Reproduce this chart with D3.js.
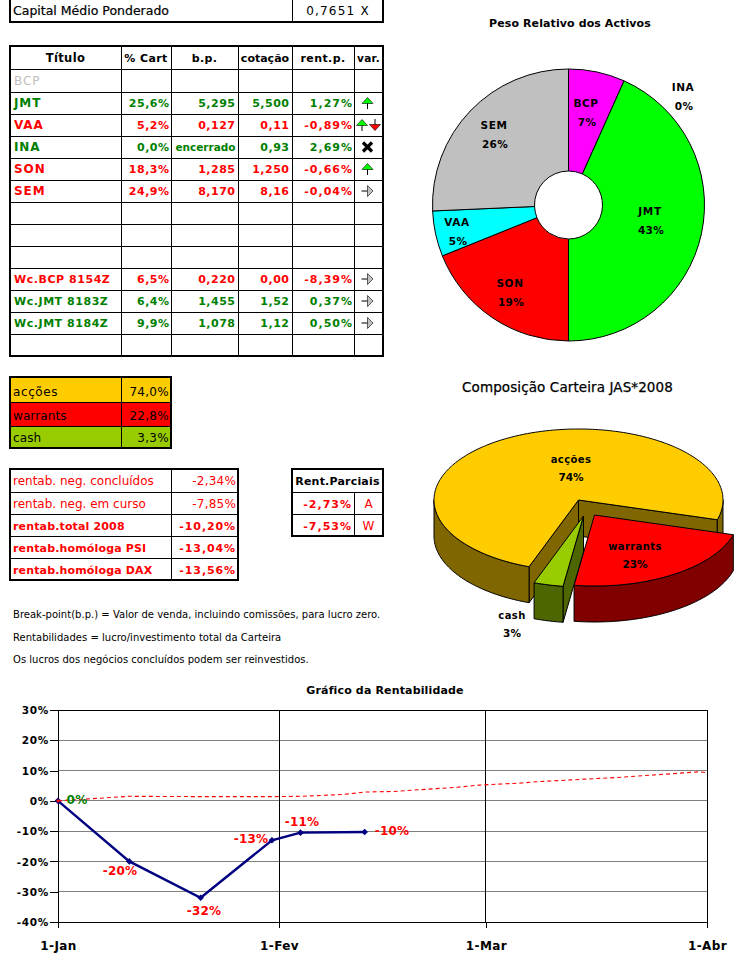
<!DOCTYPE html>
<html><head><meta charset="utf-8">
<style>html,body{margin:0;padding:0;background:#fff}svg{display:block}text{font-family:"DejaVu Sans",sans-serif}</style>
<script src="https://cdn.jsdelivr.net/npm/d3@7"></script></head><body>
<script>
// ---------- data ----------
const capitalLabel = "Capital Médio Ponderado";
const capitalValue = "0,7651 X";
const tableHeader = ["Título","% Cart","b.p.","cotação","rent.p.","var."];
const titulos = ["BCP","JMT","VAA","INA","SON","SEM","","","","Wc.BCP 8154Z","Wc.JMT 8183Z","Wc.JMT 8184Z",""];
const pctCart = ["","25,6%","5,2%","0,0%","18,3%","24,9%","","","","6,5%","6,4%","9,9%",""];
const breakPoint = ["","5,295","0,127","encerrado","1,285","8,170","","","","0,220","1,455","1,078",""];
const cotacao = ["","5,500","0,11","0,93","1,250","8,16","","","","0,00","1,52","1,12",""];
const rentP = ["","1,27%","-0,89%","2,69%","-0,66%","-0,04%","","","","-8,39%","0,37%","0,50%",""];
const varSym = ["","up","updown","x","up","flat","","","","flat","flat","flat",""];
const rowTone = ["muted","pos","neg","pos","neg","neg","","","","neg","pos","pos",""];

const compNames = ["acções","warrants","cash"];
const compValues = [74.0,22.8,3.3];
const compText = ["74,0%","22,8%","3,3%"];
const compPct = ["74%","23%","3%"];

const rentNames = ["rentab. neg. concluídos","rentab. neg. em curso","rentab.total 2008","rentab.homóloga PSI","rentab.homóloga DAX"];
const rentValues = ["-2,34%","-7,85%","-10,20%","-13,04%","-13,56%"];
const rentBold = [false,false,true,true,true];
const parcialTitle = "Rent.Parciais";
const parcialValues = ["-2,73%","-7,53%"];
const parcialKeys = ["A","W"];
const notes = ["Break-point(b.p.) = Valor de venda, incluindo comissões, para lucro zero.",
  "Rentabilidades = lucro/investimento total da Carteira",
  "Os lucros dos negócios concluídos podem ser reinvestidos."];

const pieNames = ["BCP","JMT","INA","SON","VAA","SEM"];
const pieValues = [6.7,43.3,0,18.9,5.4,25.7];
const piePct = ["7%","43%","0%","19%","5%","26%"];

const lineDates = ["2008-01-01","2008-01-11","2008-01-21","2008-01-31","2008-02-04","2008-02-13"];
const lineValues = [0,-20,-32,-13,-10.5,-10.3];
const lineLabels = ["0%","-20%","-32%","-13%","-11%","-10%"];
const refDates = ["2008-01-01","2008-01-11","2008-01-21","2008-01-31","2008-02-04","2008-02-10","2008-02-13","2008-02-17","2008-02-26","2008-02-29","2008-03-06","2008-03-08","2008-03-20","2008-03-23","2008-03-31","2008-04-01"];
const refValues = [0,1.5,1.4,1.4,1.5,2.1,2.9,3.1,4.5,5.2,5.9,6.3,7.8,8.3,9.6,9.3];
const yTicks = [-40,-30,-20,-10,0,10,20,30];
const xTickDates = ["2008-01-01","2008-02-01","2008-03-01","2008-04-01"];
const xTickLabels = ["1-Jan","1-Fev","1-Mar","1-Abr"];

// ---------- helpers ----------
const svg = d3.select("body").append("svg").attr("width",749).attr("height",968);
const RED="#ff0000", GREEN="#008000";
const toneColor = {muted:"#c0c0c0",pos:GREEN,neg:RED,"":"#000"};
function T(x,y,s,o={}){
  return svg.append("text").attr("x",x).attr("y",y).text(s)
   .attr("text-anchor",o.a||"start").attr("font-size",o.s||12)
   .attr("font-weight",o.b?"bold":"normal").attr("fill",o.f||"#000")
   .attr("letter-spacing",o.ls||0);
}
function grid(xs,ys,skipV){
  const g=svg.append("g").attr("shape-rendering","crispEdges").attr("stroke","#000");
  xs.slice(1,-1).forEach(x=>g.append("line").attr("x1",x).attr("x2",x).attr("y1",skipV?ys[1]:ys[0]).attr("y2",ys[ys.length-1]));
  ys.slice(1,-1).forEach(y=>g.append("line").attr("x1",xs[0]).attr("x2",xs[xs.length-1]).attr("y1",y).attr("y2",y));
  g.append("rect").attr("x",xs[0]).attr("y",ys[0]).attr("width",xs[xs.length-1]-xs[0]).attr("height",ys[ys.length-1]-ys[0]).attr("fill","none").attr("stroke-width",2);
  return g;
}

// ---------- capital box ----------
grid([10,292,383],[-3,22]);
T(13,15,capitalLabel,{s:12.5}).attr("stroke","#000").attr("stroke-width",.2);
T(338,15,capitalValue,{a:"middle",s:12,ls:1.2});

// ---------- main table ----------
const colX=[10,121,171,238,292,354,383];
const rowY=[46,69,92,114,136,158,180,202,224,246,268,290,312,334,356];
grid(colX,rowY);
tableHeader.forEach((h,i)=>T((colX[i]+colX[i+1])/2,62,h,{a:"middle",b:true,s:i==5?10.5:(i==0?11.5:11),ls:i==3?0:.4}));
titulos.forEach((t,i)=>{
  const mid=(rowY[i+1]+rowY[i+2])/2, c=toneColor[rowTone[i]];
  const wc=i>=9;
  T(14,mid+4,t,{b:rowTone[i]!="muted",s:wc?11:12,f:c,ls:wc?.55:.9});
  T(169.5,mid+4,pctCart[i],{a:"end",b:true,s:11,f:c,ls:.5});
  T(235.5,mid+4,breakPoint[i],{a:"end",b:true,s:breakPoint[i]=="encerrado"?10.5:11,f:c,ls:breakPoint[i]=="encerrado"?0:.5});
  T(289.5,mid+4,cotacao[i],{a:"end",b:true,s:11,f:c,ls:.5});
  T(353,mid+4,rentP[i],{a:"end",b:true,s:11,f:c,ls:1});
  drawVar(varSym[i],367.5,mid);
});
function arrowUp(x,y,fill){
  svg.append("path").attr("d",`M${x},${y-5}V${y+6}`).attr("stroke","#000").attr("fill","none");
  svg.append("path").attr("d",`M${x},${y-5.5}L${x+5.5},${y+.5}H${x-5.5}Z`).attr("fill",fill).attr("stroke","#000").attr("stroke-width",.6);
}
function arrowDown(x,y,fill){
  svg.append("path").attr("d",`M${x},${y-6}V${y+5}`).attr("stroke","#000").attr("fill","none");
  svg.append("path").attr("d",`M${x},${y+5.5}L${x+5.5},${y-.5}H${x-5.5}Z`).attr("fill",fill).attr("stroke","#000").attr("stroke-width",.6);
}
function drawVar(k,x,y){
  if(k=="up") arrowUp(x,y,"#00ff00");
  if(k=="updown"){arrowUp(x-5.5,y,"#00ff00");arrowDown(x+7.5,y,"#ff0000");}
  if(k=="x") svg.append("path").attr("d",`M${x-4.5},${y-4.5}L${x+4.5},${y+4.5}M${x+4.5},${y-4.5}L${x-4.5},${y+4.5}`).attr("stroke","#000").attr("stroke-width",3.2).attr("fill","none");
  if(k=="flat"){
    svg.append("path").attr("d",`M${x-6},${y}H${x}`).attr("stroke","#000").attr("fill","none");
    svg.append("path").attr("d",`M${x},${y-5.5}L${x+5.5},${y}L${x},${y+5.5}Z`).attr("fill","#c0c0c0").attr("stroke","#000").attr("stroke-width",.6);
  }
}

// ---------- composition table ----------
const compY=[377,402,426,448];
const compBase=[396,420,442];
const compFill=["#ffcc00","#ff0000","#99cc00"];
compNames.forEach((n,i)=>{
  svg.append("rect").attr("x",10).attr("y",compY[i]).attr("width",161).attr("height",compY[i+1]-compY[i]).attr("fill",compFill[i]);
  T(13,compBase[i],n,{s:12,ls:i==0?.6:.1});
  T(169,compBase[i],compText[i],{a:"end",s:12,ls:.3});
});
grid([10,121,171],compY);

// ---------- rentability tables ----------
const rentY=[469,492,514,536,558,580];
grid([10,171,238],rentY);
rentNames.forEach((n,i)=>{
  T(13,rentY[i]+16,n,{s:rentBold[i]?11:12,b:rentBold[i],f:RED,ls:rentBold[i]?.15:0});
  T(236,rentY[i]+16,rentValues[i],{a:"end",s:rentBold[i]?11:12,b:rentBold[i],f:RED,ls:rentBold[i]?.9:.2});
});
const parcY=[469,492,514,536];
grid([292,354,383],parcY,true);
T(337.5,485,parcialTitle,{a:"middle",b:true,s:11,ls:.2});
parcialValues.forEach((v,i)=>{
  const yy=parcY[i+1]+16;
  T(352,yy,v,{a:"end",b:true,s:11,f:RED,ls:1});
  T(368.5,yy,parcialKeys[i],{a:"middle",s:12,f:RED});
});

// ---------- notes ----------
[618,641,663].forEach((yy,i)=>T(13,yy,notes[i],{s:10,ls:.02}));

// ---------- doughnut ----------
T(570,27,"Peso Relativo dos Activos",{a:"middle",b:true,s:11,ls:.1});
const pieG=svg.append("g").attr("transform","translate(568.5,205)");
const pieFill=["#ff00ff","#00ff00","#ffffff","#ff0000","#00ffff","#c0c0c0"];
const arcs=d3.pie().sort(null)(pieValues);
const arcGen=d3.arc().innerRadius(34).outerRadius(136);
pieG.selectAll("path").data(arcs).join("path").attr("d",arcGen)
  .attr("fill",(d,i)=>pieFill[i]).attr("stroke","#000").attr("stroke-width",1);
const pieLabelAt=[[586,107],[650,215],[683,91],[510,287],[457,226],[494,129]];
pieNames.forEach((n,i)=>{
  T(pieLabelAt[i][0],pieLabelAt[i][1],n,{a:"middle",b:true,s:10.5,ls:.6});
  T(pieLabelAt[i][0]+1,pieLabelAt[i][1]+19,piePct[i],{a:"middle",b:true,s:10.5,ls:.3});
});

// ---------- 3D pie ----------
T(567.5,392,"Composição Carteira JAS*2008",{a:"middle",s:13.5,ls:.1}).attr("stroke","#000").attr("stroke-width",.25);
const p3={cx:578.5,cy:500,rx:144.5,ry:71,depth:36};
const compOffset=[[0,0],[16,15],[5,16]];
const compSide=["#806600","#800000","#4d6600"];
const pt=(a,o,dz=0)=>[p3.cx+o[0]+p3.rx*Math.sin(a),p3.cy+o[1]-p3.ry*Math.cos(a)+dz];
const sample=(a0,a1)=>{const n=Math.max(2,Math.ceil((a1-a0)/0.02));return d3.range(n+1).map(k=>a0+(a1-a0)*k/n);};
const poly=d3.line();
const g3=svg.append("g").attr("stroke","#000").attr("stroke-width",1).attr("stroke-linejoin","round");
const start3=200*Math.PI/180;
const arcs3=d3.pie().sort(null).startAngle(start3).endAngle(start3+2*Math.PI)(compValues);
arcs3.forEach((d,i)=>{
  const o=compOffset[i],a0=d.startAngle,a1=d.endAngle,apex=[p3.cx+o[0],p3.cy+o[1]];
  const apexLow=[apex[0],apex[1]+p3.depth];
  const face=(a)=>g3.append("path").attr("d",poly([apex,pt(a,o),pt(a,o,p3.depth),apexLow])+"Z").attr("fill",compSide[i]);
  // cut faces that look towards the viewer
  if(Math.sin(a1)>0) face(a1);
  if(Math.sin(a0)<0) face(a0);
  // outer wall, only the half turned towards the viewer
  [[Math.PI/2,3*Math.PI/2],[5*Math.PI/2,7*Math.PI/2]].forEach(([lo,hi])=>{
    const b0=Math.max(a0,lo),b1=Math.min(a1,hi);
    if(b1>b0){
      const s=sample(b0,b1);
      g3.append("path").attr("d",poly(s.map(a=>pt(a,o)).concat(s.slice().reverse().map(a=>pt(a,o,p3.depth))))+"Z").attr("fill",compSide[i]);
    }
  });
  g3.append("path").attr("d",poly([apex].concat(sample(a0,a1).map(a=>pt(a,o))))+"Z").attr("fill",compFill[i]);
});
const compLabelAt=[[571,463],[635,550],[512,619]];
compNames.forEach((n,i)=>{
  T(compLabelAt[i][0],compLabelAt[i][1],n,{a:"middle",b:true,s:10,ls:.4});
  T(compLabelAt[i][0],compLabelAt[i][1]+18,compPct[i],{a:"middle",b:true,s:10.5});
});

// ---------- line chart ----------
T(385,694,"Gráfico da Rentabilidade",{a:"middle",b:true,s:11,ls:.15});
const parse=d3.utcParse("%Y-%m-%d");
const x=d3.scaleUtc().domain([parse(xTickDates[0]),parse(xTickDates[3])]).range([58,707]);
const y=d3.scaleLinear().domain([-40,30]).range([922,710]);
const yAxis=svg.append("g").attr("transform","translate(58,0)").attr("shape-rendering","crispEdges")
  .call(d3.axisLeft(y).tickValues(yTicks).tickSize(8).tickPadding(1).tickFormat(d=>d+"%"));
yAxis.select(".domain").remove();
yAxis.selectAll("text").attr("font-family",'"DejaVu Sans"').attr("font-size",10.5).attr("font-weight","bold").attr("letter-spacing",.7).attr("fill","#000").attr("dy","0.35em");
const hGrid=svg.append("g").attr("shape-rendering","crispEdges");
hGrid.selectAll("line").data(yTicks.filter(v=>v>-40&&v<30)).join("line")
  .attr("x1",x.range()[0]).attr("x2",x.range()[1]).attr("y1",d=>y(d)).attr("y2",d=>y(d)).attr("stroke","#808080");
const xAxis=svg.append("g").attr("transform","translate(0,922)").attr("shape-rendering","crispEdges")
  .call(d3.axisBottom(x).tickValues(xTickDates.map(parse)).tickSize(6).tickPadding(13).tickFormat((d,i)=>xTickLabels[i]));
xAxis.select(".domain").remove();
xAxis.selectAll("text").attr("font-family",'"DejaVu Sans"').attr("font-size",12).attr("font-weight","bold").attr("letter-spacing",.4).attr("fill","#000");
const vGrid=svg.append("g").attr("shape-rendering","crispEdges");
vGrid.selectAll("line").data(xTickDates.map(parse)).join("line")
  .attr("x1",d=>x(d)).attr("x2",d=>x(d)).attr("y1",y(30)).attr("y2",y(-40)).attr("stroke","#000");
svg.append("rect").attr("x",x.range()[0]).attr("y",y(30)).attr("width",x.range()[1]-x.range()[0]).attr("height",y(-40)-y(30)).attr("fill","none").attr("stroke","#000").attr("shape-rendering","crispEdges");

const lineGen=d3.line().x(d=>x(d[0])).y(d=>y(d[1]));
const mainPts=lineDates.map((d,i)=>[parse(d),lineValues[i]]);
const refPts=refDates.map((d,i)=>[parse(d),refValues[i]]);
svg.append("path").attr("d",lineGen(mainPts)).attr("fill","none").attr("stroke","#000080").attr("stroke-width",2.4);
svg.selectAll(".mk").data(mainPts).join("path").attr("class","mk")
  .attr("transform",d=>`translate(${x(d[0])},${y(d[1])}) rotate(45)`)
  .attr("d",d3.symbol(d3.symbolSquare,22)).attr("fill","#000080");
svg.append("path").attr("d",lineGen(refPts)).attr("fill","none").attr("stroke","#ff0000").attr("stroke-width",1.1).attr("stroke-dasharray","4,3");
svg.append("circle").attr("cx",x(refPts[0][0])).attr("cy",y(0)).attr("r",1.6).attr("fill","#ff0000");
const lineLabelAt=[[77,804],[120,875],[204,915],[251,843],[302,826],[392,835]];
lineLabels.forEach((l,i)=>T(lineLabelAt[i][0],lineLabelAt[i][1],l,{a:"middle",b:true,s:12,f:i==0?GREEN:RED,ls:.2}));
</script></body></html>
